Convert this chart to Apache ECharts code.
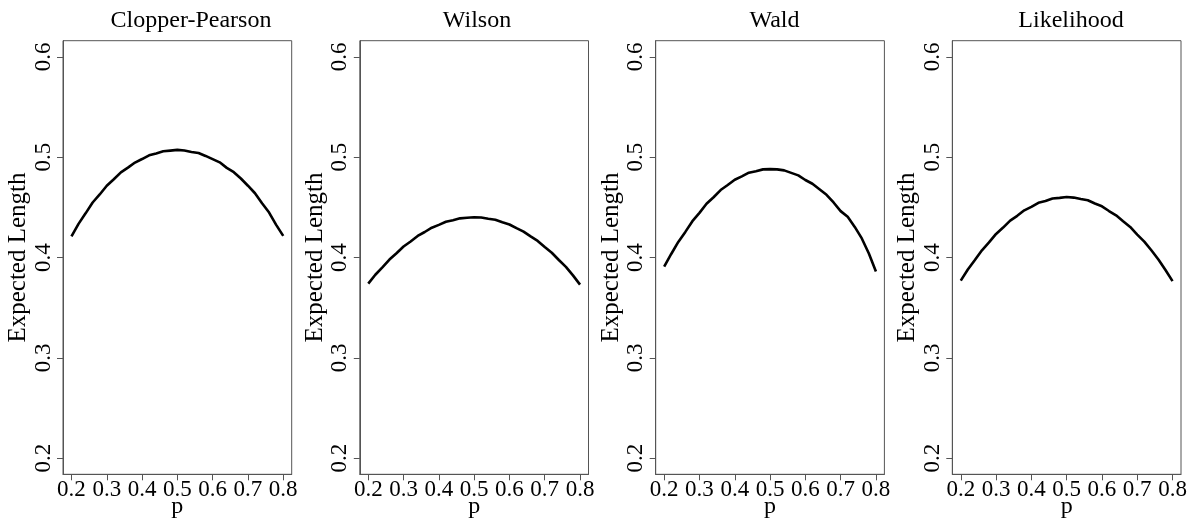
<!DOCTYPE html>
<html>
<head>
<meta charset="utf-8">
<script src="https://cdn.jsdelivr.net/npm/echarts@6/dist/echarts.min.js"></script>
<style>
html,body{margin:0;padding:0;background:#fff;}
#chart{width:1190px;height:523px;}
</style>
</head>
<body>
<div id="chart"></div>
<script>
// Data
const pValues = [0.20,0.22,0.24,0.26,0.28,0.30,0.32,0.34,0.36,0.38,0.40,0.42,0.44,0.46,0.48,0.50,
                 0.52,0.54,0.56,0.58,0.60,0.62,0.64,0.66,0.68,0.70,0.72,0.74,0.76,0.78,0.80];
const panelTitles = ["Clopper-Pearson", "Wilson", "Wald", "Likelihood"];
const clopperPearson = [0.4210,0.4335,0.4440,0.4548,0.4628,0.4715,0.4780,0.4848,0.4895,0.4946,0.4981,0.5018,0.5037,0.5058,0.5065,0.5072,
                        0.5066,0.5052,0.5041,0.5012,0.4980,0.4948,0.4893,0.4850,0.4787,0.4715,0.4640,0.4540,0.4448,0.4325,0.4215];
const wilson = [0.3740,0.3828,0.3902,0.3980,0.4043,0.4110,0.4160,0.4215,0.4254,0.4297,0.4325,0.4356,0.4372,0.4390,0.4396,0.4401,
                0.4398,0.4386,0.4376,0.4351,0.4329,0.4292,0.4258,0.4210,0.4165,0.4104,0.4047,0.3975,0.3906,0.3822,0.3730];
const wald = [0.3910,0.4035,0.4155,0.4255,0.4362,0.4445,0.4535,0.4600,0.4672,0.4722,0.4775,0.4808,0.4845,0.4860,0.4878,0.4880,
              0.4878,0.4868,0.4843,0.4818,0.4772,0.4735,0.4680,0.4625,0.4548,0.4462,0.4405,0.4305,0.4190,0.4040,0.3860];
const likelihood = [0.3770,0.3880,0.3975,0.4072,0.4150,0.4235,0.4298,0.4368,0.4415,0.4470,0.4505,0.4545,0.4563,0.4588,0.4594,0.4602,
                    0.4597,0.4583,0.4570,0.4538,0.4510,0.4463,0.4420,0.4362,0.4305,0.4228,0.4158,0.4072,0.3980,0.3875,0.3765];
const xTicks = [0.2,0.3,0.4,0.5,0.6,0.7,0.8];
const yTicks = [0.2,0.3,0.4,0.5,0.6];
const xRange = [0.176, 0.824];
const yRange = [0.184, 0.616];

const seriesValues = [clopperPearson, wilson, wald, likelihood];

const FONT = "'Liberation Serif','DejaVu Serif',serif";
const frameColor = '#555';
const panelLefts = [63, 359.8, 655.7, 952.3];
const panelWidth = 228.7;
const panelTop = 40.7;
const panelHeight = 433.6;
const titleCenters = [186, 472, 769.5, 1066];

const chart = echarts.init(document.getElementById('chart'), null, {renderer: 'canvas'});

const grids = [], xAxes = [], yAxes = [], series = [], titles = [];
for (let i = 0; i < 4; i++) {
  grids.push({left: panelLefts[i], top: panelTop, width: panelWidth, height: panelHeight,
              containLabel: false, outerBoundsMode: 'none',
              show: true, borderColor: frameColor, borderWidth: 1, backgroundColor: 'transparent'});
  xAxes.push({
    type: 'value', gridIndex: i, min: xRange[0], max: xRange[1],
    name: 'p', nameLocation: 'middle', nameGap: 20, nameMoveOverlap: false,
    nameTextStyle: {fontFamily: FONT, fontSize: 24, color: '#000'},
    axisLine: {show: true, onZero: false, lineStyle: {color: frameColor, width: 1}},
    axisTick: {show: true, length: 6, customValues: xTicks, lineStyle: {color: frameColor}},
    axisLabel: {show: true, customValues: xTicks, margin: 4, fontFamily: FONT, fontSize: 23, color: '#000',
                formatter: v => v.toFixed(1)},
    splitLine: {show: false}
  });
  yAxes.push({
    type: 'value', gridIndex: i, min: yRange[0], max: yRange[1],
    name: 'Expected Length', nameLocation: 'middle', nameGap: 30, nameRotate: 90,
    nameTextStyle: {fontFamily: FONT, fontSize: 25, color: '#000'},
    axisLine: {show: true, onZero: false, lineStyle: {color: frameColor, width: 1}},
    axisTick: {show: true, length: 6, customValues: yTicks, lineStyle: {color: frameColor}},
    axisLabel: {show: true, customValues: yTicks, rotate: 90, margin: 8, fontFamily: FONT, fontSize: 23, color: '#000',
                formatter: v => v.toFixed(1)},
    splitLine: {show: false}
  });
  series.push({
    type: 'line', xAxisIndex: i, yAxisIndex: i,
    data: pValues.map((p, k) => [p, seriesValues[i][k]]),
    showSymbol: false, symbol: 'none', smooth: false,
    lineStyle: {color: '#000', width: 2.6},
    animation: false
  });
  titles.push({text: panelTitles[i], left: titleCenters[i], top: 4, textAlign: 'center',
               textStyle: {fontFamily: FONT, fontSize: 24, fontWeight: 'normal', color: '#000'}});
}

chart.setOption({
  animation: false,
  backgroundColor: '#fff',
  title: titles,
  grid: grids,
  xAxis: xAxes,
  yAxis: yAxes,
  series: series
});
</script>
</body>
</html>
